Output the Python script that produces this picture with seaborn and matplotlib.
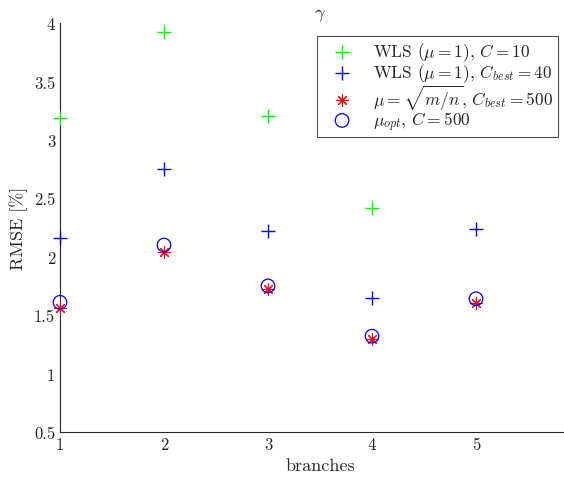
import matplotlib
matplotlib.use("Agg")
import matplotlib.pyplot as plt
import matplotlib.ticker as mticker
import seaborn as sns
import pandas as pd

branches = [1, 2, 3, 4, 5]
wls_c10 = [3.19, 3.92, 3.20, 2.42]
wls_cbest = [2.16, 2.75, 2.22, 1.65, 2.24]
mu_sqrt = [1.56, 2.04, 1.72, 1.30, 1.60]
mu_opt = [1.61, 2.10, 1.75, 1.32, 1.64]

labels = [r"WLS ($\mu=1$), $C=10$",
          r"WLS ($\mu=1$), $C_{best}=40$",
          r"$\mu=\sqrt{m/n}$, $C_{best}=500$",
          r"$\mu_{opt}$, $C=500$"]
yticks = [0.5, 1, 1.5, 2, 2.5, 3, 3.5, 4]
xticks = [1, 2, 3, 4, 5]

sns.set_style("white")
plt.rcParams["font.family"] = ["cmr10", "DejaVu Serif"]
plt.rcParams["mathtext.fontset"] = "cm"
plt.rcParams["axes.unicode_minus"] = False

fig = plt.figure(figsize=(5.64, 4.81), dpi=100)
ax = fig.add_axes([60/564, 48/481, 520/564, 409/481])

d1 = pd.DataFrame({"x": branches[:len(wls_c10)], "y": wls_c10})
d2 = pd.DataFrame({"x": branches, "y": wls_cbest})
d3 = pd.DataFrame({"x": branches, "y": mu_sqrt})
d4 = pd.DataFrame({"x": branches, "y": mu_opt})

sns.scatterplot(data=d1, x="x", y="y", ax=ax, marker="+", s=110, color="#00ff00",
                linewidth=1.0, label=labels[0], clip_on=False, zorder=3)
sns.scatterplot(data=d2, x="x", y="y", ax=ax, marker="+", s=110, color="#0000ff",
                linewidth=1.0, label=labels[1], clip_on=False, zorder=3)
sns.scatterplot(data=d3, x="x", y="y", ax=ax, marker=(8, 2, 0), s=65, color="#ff0000",
                edgecolor="#ff0000", linewidth=0.8, label=labels[2], clip_on=False, zorder=3)
sns.scatterplot(data=d4, x="x", y="y", ax=ax, marker="o", s=95, facecolor="none",
                edgecolor="#0000ff", linewidth=0.9, label=labels[3], clip_on=False, zorder=3)

ax.set_xlim(1, 6)
ax.set_ylim(0.5, 4)
ax.set_xticks(xticks)
ax.set_yticks(yticks)
ax.yaxis.set_major_formatter(mticker.FuncFormatter(lambda v, p: f"{v:g}"))
ax.xaxis.set_major_formatter(mticker.FuncFormatter(lambda v, p: f"{v:g}"))
ax.tick_params(direction="in", length=5, width=0.8, labelsize=12, colors="#262626")
for s in ["top", "right"]:
    ax.spines[s].set_visible(False)
for s in ["left", "bottom"]:
    ax.spines[s].set_color("#262626")
    ax.spines[s].set_linewidth(0.8)

ax.set_xlabel("branches", fontsize=13, color="#262626")
ax.set_ylabel("RMSE [%]", fontsize=13, color="#262626")
ax.set_title(r"$\gamma$", fontsize=13, color="#262626", pad=4)

leg = ax.legend(loc="upper left", bbox_to_anchor=(0.494, 0.968), fontsize=12.5,
                frameon=True, fancybox=False, edgecolor="#262626",
                borderaxespad=0, handletextpad=0.6, labelspacing=-0.1,
                borderpad=0.25, handlelength=2.4)
leg.get_frame().set_linewidth(0.8)

fig.savefig("out.png", dpi=100)
